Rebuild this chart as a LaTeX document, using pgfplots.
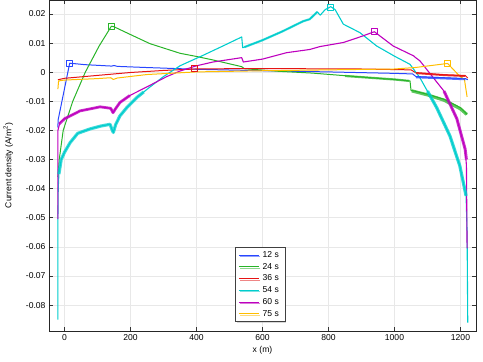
\documentclass[border=0pt]{standalone}
\usepackage{fontspec}
\setmainfont{Liberation Sans}
\usepackage{pgfplots}
\pgfplotsset{compat=1.18}
\usetikzlibrary{shadows}
\definecolor{cblue}{RGB}{40,70,255}
\definecolor{cgreen}{RGB}{40,180,40}
\definecolor{cred}{RGB}{230,20,20}
\definecolor{ccyan}{RGB}{0,205,205}
\definecolor{cmag}{RGB}{190,0,190}
\definecolor{corange}{RGB}{255,190,0}
\newcommand{\fs}{\fontsize{8.6}{10}\selectfont}
\begin{document}
\begin{tikzpicture}
\useasboundingbox (-49bp,-31bp) rectangle (434bp,331bp);
\begin{axis}[
  scale only axis, width=427bp, height=331bp,
  xmin=-47, xmax=1247, ymin=-0.0889, ymax=0.0248,
  xtick={0,200,...,1200},
  ytick={-0.08,-0.07,-0.06,-0.05,-0.04,-0.03,-0.02,-0.01,0,0.01,0.02},
  scaled y ticks=false, scaled x ticks=false,
  yticklabel style={/pgf/number format/.cd, fixed, precision=2, assume math mode=true},
  xticklabel style={/pgf/number format/.cd, 1000 sep={}, assume math mode=true},
  tick label style={font=\fs},
  label style={font=\fs},
  xlabel={x (m)}, ylabel={Current density (A/m\textsuperscript{2})},
  xlabel style={yshift=1bp},
  ylabel style={yshift=6bp},
  grid=major, major grid style={gray!18, line width=0.6pt},
  axis line style={black!85, line width=0.9pt},
  major tick length=4bp, tick style={black!80, line width=0.6pt},
  legend style={at={(0.4356,0.027)}, anchor=south west, font=\fs,
    draw=black!75, line width=1pt, fill=white, row sep=0.3pt,
    drop shadow={shadow xshift=1.3pt, shadow yshift=-1.3pt, fill=gray!60},
    cells={anchor=west}, nodes={inner xsep=3.2pt}},
  legend image code/.code={\draw[#1, line width=1pt] (0bp,0bp) -- (20bp,0bp);},
  every axis plot/.append style={line join=round},
]
% 12 s
\addplot[cblue, line width=1pt] coordinates {(-20,-0.019) (-19.5,-0.0165) (15.7,0.0031) (60,0.0026) (143,0.0021) (150,0.0023) (160,0.0020) (250,0.0016) (400,0.0010) (600,0.0005) (800,0.0001) (1000,-0.0004) (1055,-0.0006) (1065,-0.0015) (1150,-0.0019) (1215,-0.0022) (1222,-0.0026)};
\addlegendentry{12 s}
% 24 s
\addplot[cgreen, line width=1pt] coordinates {(-20,-0.036) (-16,-0.030) (-4,-0.020) (25,-0.010) (63,0) (105,0.009) (142,0.0158) (150,0.0156) (208,0.0125) (259,0.0098) (350,0.0065) (400,0.0054) (450,0.0042) (537,0.0019) (545,0.0012) (650,0.0003) (750,-0.0003) (850,-0.0012) (950,-0.0021) (1000,-0.0025) (1047,-0.0030) (1050,-0.0062) (1100,-0.0076) (1150,-0.0093) (1200,-0.0122) (1220,-0.0145)};
\addlegendentry{24 s}
% 36 s
\addplot[cred, line width=1pt] coordinates {(-20,-0.0026) (0,-0.0021) (50,-0.0016) (100,-0.0011) (150,-0.0006) (200,-0.0001) (300,0.0006) (395,0.0011) (500,0.0012) (700,0.0012) (900,0.0011) (1050,0.0008) (1065,-0.0002) (1150,-0.0009) (1215,-0.0012) (1222,-0.0020)};
\addlegendentry{36 s}
% 54 s
\addplot[ccyan, line width=1.1pt] coordinates {(-20,-0.085) (-20,-0.05) (-19,-0.040) (-17,-0.035) (-10,-0.030) (0,-0.0275) (17,-0.0242) (40,-0.021) (77,-0.0195) (110,-0.0185) (138,-0.0179) (145,-0.0200) (148,-0.0207) (155,-0.0180) (168,-0.0150) (190,-0.0120) (219,-0.0087) (260,-0.0050) (300,-0.0015) (350,0.0022) (420,0.0058) (480,0.0090) (537,0.0121) (540,0.0084) (600,0.0110) (660,0.0140) (723,0.0175) (743,0.0182) (766,0.0207) (775,0.0196) (790,0.0215) (807,0.0225) (820,0.0215) (845,0.0165) (895,0.0136) (946,0.0090) (1000,0.0055) (1047,0.0027) (1077,-0.0019) (1128,-0.0122) (1168,-0.0219) (1198,-0.0322) (1217,-0.0425) (1220,-0.055) (1222,-0.086)};
\addlegendentry{54 s}
% 60 s
\addplot[cmag, line width=1.1pt] coordinates {(-20,-0.0505) (-20,-0.020) (-14,-0.0173) (0,-0.0160) (47,-0.0133) (108,-0.0119) (140,-0.0124) (147,-0.0139) (155,-0.0125) (168,-0.0104) (198,-0.0080) (259,-0.0045) (310,-0.0015) (350,0.0004) (400,0.0022) (450,0.0035) (537,0.0050) (542,0.0035) (600,0.0045) (673,0.0067) (743,0.0078) (774,0.0088) (845,0.0102) (895,0.0121) (939,0.0139) (996,0.0090) (1058,0.0056) (1064,0.0050) (1077,0.0039) (1150,-0.0065) (1189,-0.0160) (1214,-0.0264) (1218,-0.032) (1220,-0.0605)};
\addlegendentry{60 s}
% 75 s
\addplot[corange, line width=1pt] coordinates {(-20,-0.0058) (-18,-0.0030) (0,-0.0027) (100,-0.0022) (140,-0.0019) (148,-0.0025) (160,-0.0020) (250,-0.0008) (400,0.0001) (600,0.0005) (800,0.0008) (1000,0.0011) (1062,0.0016) (1161,0.0030) (1197,-0.0013) (1212,-0.0025) (1220,-0.0085)};
\addlegendentry{75 s}
% noisy bands (thicker overlays)
\addplot[forget plot, cblue, line width=2.2pt, opacity=0.8] coordinates {(1065,-0.0017) (1150,-0.0021) (1215,-0.0024)};
\addplot[forget plot, cred, line width=2pt, opacity=0.85] coordinates {(1065,-0.0003) (1150,-0.0010) (1215,-0.0013)};
\addplot[forget plot, cgreen, line width=2.2pt, opacity=0.75] coordinates {(850,-0.0013) (950,-0.0021) (1000,-0.0025) (1045,-0.0030)};
\addplot[forget plot, cgreen, line width=3.2pt, opacity=0.75] coordinates {(1052,-0.0064) (1100,-0.0078) (1150,-0.0096) (1200,-0.0126) (1219,-0.0145)};
\addplot[forget plot, ccyan, line width=3.2pt, opacity=0.75] coordinates {(-17,-0.035) (-10,-0.030) (0,-0.0275) (17,-0.0242) (40,-0.021) (77,-0.0195) (110,-0.0185) (138,-0.0179) (145,-0.0200) (148,-0.0207) (155,-0.0180) (168,-0.0150) (190,-0.0120) (219,-0.0087) (240,-0.0068)};
\addplot[forget plot, ccyan, line width=2.2pt, opacity=0.75] coordinates {(545,0.0086) (600,0.0110) (660,0.0140) (723,0.0175) (743,0.0182) (766,0.0207)};
\addplot[forget plot, ccyan, line width=3.2pt, opacity=0.8] coordinates {(1100,-0.0065) (1128,-0.0122) (1168,-0.0219) (1198,-0.0322) (1217,-0.0425)};
\addplot[forget plot, cmag, line width=2.8pt, opacity=0.8] coordinates {(-16,-0.0178) (0,-0.0160) (47,-0.0133) (108,-0.0119) (140,-0.0124) (147,-0.0139) (155,-0.0125) (168,-0.0104) (198,-0.0080)};
\addplot[forget plot, cmag, line width=3pt, opacity=0.8] coordinates {(1150,-0.0065) (1189,-0.0160) (1214,-0.0264) (1218,-0.030)};
% markers
\addplot[forget plot, only marks, mark=square, mark size=3pt, cblue, line width=1pt] coordinates {(15.7,0.0031)};
\addplot[forget plot, only marks, mark=square, mark size=3pt, cgreen, line width=1pt] coordinates {(142,0.0158)};
\addplot[forget plot, only marks, mark=square, mark size=3pt, cred, line width=1pt] coordinates {(395,0.0013)};
\addplot[forget plot, only marks, mark=square, mark size=3pt, ccyan, line width=1pt] coordinates {(807,0.0222)};
\addplot[forget plot, only marks, mark=square, mark size=3pt, cmag, line width=1pt] coordinates {(939,0.0139)};
\addplot[forget plot, only marks, mark=square, mark size=3pt, corange, line width=1pt] coordinates {(1161,0.0030)};
\end{axis}
\end{tikzpicture}
\end{document}
